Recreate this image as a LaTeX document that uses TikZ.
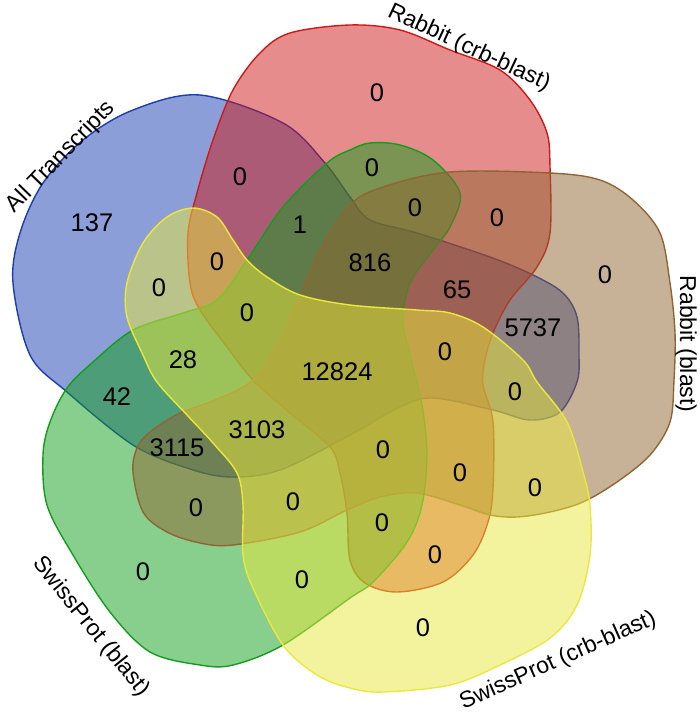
\documentclass[tikz,border=0pt]{standalone}
\usepackage{fontspec}
\setmainfont{Liberation Sans}
\usepackage{xcolor}
\definecolor{allblue}{RGB}{26,61,176}
\definecolor{crbred}{RGB}{205,25,25}
\definecolor{spgreen}{RGB}{18,158,28}
\definecolor{rbbrown}{RGB}{143,102,50}
\definecolor{spyellow}{RGB}{234,232,60}
\tikzset{
  venn/.style={fill opacity=0.5, line width=1.4pt, line join=round},
  num/.style={font=\fontsize{25.5}{30}\selectfont, inner sep=0pt},
  setlabel/.style={font=\fontsize{23}{28}\selectfont, inner sep=0pt}
}
\begin{document}
\begin{tikzpicture}[x=1pt,y=-1pt]
\useasboundingbox (0,0) rectangle (700,715);
% All Transcripts
\draw[venn, draw=allblue, fill=allblue] plot[smooth cycle, tension=0.55] coordinates {(200,95) (283,123) (325,163) (350,197) (370,220) (417,233) (490,257) (533,275) (563,293) (577,317) (579,355) (577,382) (560,412) (530,420) (493,410) (433,398) (400,407) (350,435) (280,470) (230,477) (187,468) (133,445) (67,392) (30,355) (13,283) (20,233) (43,183) (83,140) (133,110)};
% Rabbit (crb-blast)
\draw[venn, draw=crbred, fill=crbred] plot[smooth cycle, tension=0.55] coordinates {(260,53) (290,33) (350,25) (400,30) (450,50) (500,70) (530,100) (547,133) (550,167) (550,233) (537,267) (510,300) (493,333) (485,360) (483,385) (493,422) (493,488) (488,522) (473,555) (443,582) (397,592) (365,583) (350,560) (347,513) (340,473) (330,447) (290,413) (253,380) (227,347) (200,310) (190,283) (188,233) (197,193) (213,140) (233,90)};
% SwissProt (blast)
\draw[venn, draw=spgreen, fill=spgreen] plot[smooth cycle, tension=0.55] coordinates {(350,150) (370,143) (400,145) (433,160) (460,193) (450,227) (433,250) (410,283) (403,320) (410,355) (422,405) (427,455) (422,505) (407,542) (373,582) (350,598) (283,645) (233,665) (200,665) (150,652) (110,612) (73,555) (47,505) (43,455) (50,422) (67,388) (93,362) (133,330) (183,313) (217,300) (247,260) (283,207) (327,163)};
% Rabbit (blast)
\draw[venn, draw=rbbrown, fill=rbbrown] plot[smooth cycle, tension=0.55] coordinates {(350,205) (383,187) (450,172) (550,173) (600,180) (633,200) (660,233) (670,283) (675,333) (674,380) (670,422) (650,455) (617,482) (583,502) (550,512) (517,517) (490,515) (460,505) (417,493) (380,497) (347,510) (300,532) (233,545) (200,543) (167,532) (143,512) (133,472) (137,448) (150,432) (180,413) (215,400) (253,380) (280,340) (300,295) (320,250)};
% SwissProt (crb-blast)
\draw[venn, draw=spyellow, fill=spyellow] plot[smooth cycle, tension=0.55] coordinates {(193,208) (167,217) (143,243) (127,283) (127,317) (143,355) (157,382) (187,415) (213,443) (237,473) (243,505) (243,555) (253,588) (283,645) (317,675) (350,688) (383,692) (450,685) (500,665) (550,638) (577,605) (590,555) (590,505) (583,472) (567,422) (537,382) (523,360) (483,327) (450,313) (417,310) (350,305) (300,295) (267,277) (247,260) (233,240) (217,217)};

% set names
\node[setlabel, rotate=46] (lall) at (61,157) {All Transcripts};
\node[setlabel, rotate=-25] (lcrb) at (469,48) {Rabbit (crb-blast)};
\node[setlabel, rotate=-90] (lrb) at (686,344) {Rabbit (blast)};
\node[setlabel, rotate=-51] (lspb) at (91,627) {SwissProt (blast)};
\node[setlabel, rotate=24] (lspc) at (558,661) {SwissProt (crb-blast)};

% counts
\node[num] (r1) at (92,223) {137};
\node[num] (r2) at (377,93) {0};
\node[num] (r3) at (240,177) {0};
\node[num] (r4) at (372,168) {0};
\node[num] (r5) at (415,208) {0};
\node[num] (r6) at (497,218) {0};
\node[num] (r7) at (300,225) {1};
\node[num] (r8) at (370,263) {816};
\node[num] (r9) at (217,262) {0};
\node[num] (r10) at (159,288) {0};
\node[num] (r11) at (247,313) {0};
\node[num] (r12) at (457,290) {65};
\node[num] (r13) at (605,275) {0};
\node[num] (r14) at (533,328) {5737};
\node[num] (r15) at (183,360) {28};
\node[num] (r16) at (337,372) {12824};
\node[num] (r17) at (445,352) {0};
\node[num] (r18) at (515,392) {0};
\node[num] (r19) at (117,397) {42};
\node[num] (r20) at (177,448) {3115};
\node[num] (r21) at (257,430) {3103};
\node[num] (r22) at (383,450) {0};
\node[num] (r23) at (460,473) {0};
\node[num] (r24) at (535,488) {0};
\node[num] (r25) at (196,508) {0};
\node[num] (r26) at (293,502) {0};
\node[num] (r27) at (382,523) {0};
\node[num] (r28) at (435,555) {0};
\node[num] (r29) at (143,572) {0};
\node[num] (r30) at (302,580) {0};
\node[num] (r31) at (423,628) {0};
\end{tikzpicture}
\end{document}
